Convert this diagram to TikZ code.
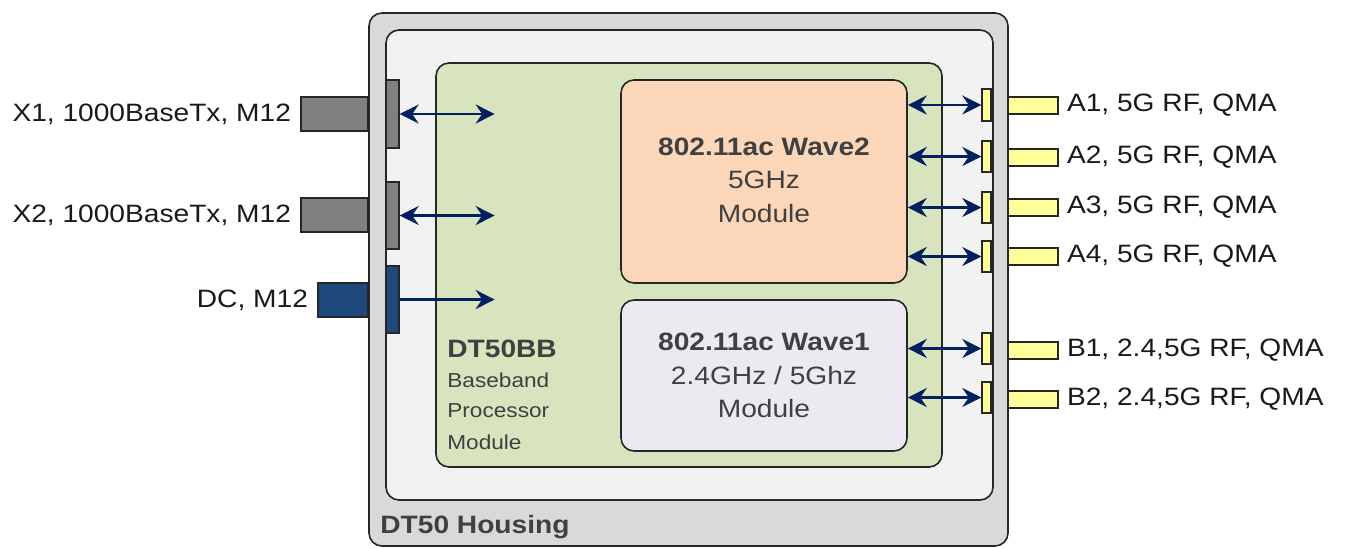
\documentclass[tikz,border=0pt]{standalone}
\usepackage{fontspec}
\setmainfont{Liberation Sans}[FakeStretch=1.12]
\usetikzlibrary{arrows.meta, positioning, fit}
\definecolor{housing}{HTML}{D9D9D9}
\definecolor{bayfill}{HTML}{F2F2F2}
\definecolor{bbgreen}{HTML}{D7E4BD}
\definecolor{peach}{HTML}{FBD6B9}
\definecolor{lilac}{HTML}{ECE9F1}
\definecolor{portgray}{HTML}{808080}
\definecolor{dcblue}{HTML}{1F497D}
\definecolor{rfyellow}{HTML}{FFFF99}
\definecolor{navy}{HTML}{002060}
\definecolor{txt}{HTML}{404040}
\tikzset{
	x=0.02cm, y=-0.02cm,
	bigtip/.tip={Stealth[length=3.8mm, width=3.8mm, inset=1.3mm]},
	box/.style={draw=black!85, line width=0.9pt, rounded corners=0.26cm, inner sep=0pt},
	port/.style={draw=black!85, line width=0.8pt, inner sep=0pt},
	link/.style={bigtip-bigtip, navy, line width=1.3pt},
	feed/.style={-bigtip, navy, line width=1.3pt},
	big/.style={font=\fontsize{14.3}{19}\selectfont, text=txt, align=center},
	lbl/.style={font=\fontsize{14.3}{17}\selectfont, text=black!90, inner sep=0pt}}

\begin{document}
\begin{tikzpicture}
	\useasboundingbox (0,0) rectangle (1349,548);

	\node[box, fill=housing, fit={(369,13) (1008,546)}] (housing) {};
	\node[box, fill=bayfill, fit={(386,30) (993,500)}] (bay) {};
	\node[anchor=base west, font=\bfseries\fontsize{14.3}{17}\selectfont, text=txt, inner sep=0pt] (housinglbl) at (380,533) {DT50 Housing};

	% left side
	\node[port, fill=portgray, fit={(386,80) (399,148)}] (x1in) {};
	\node[port, fill=portgray, fit={(301,97) (368,131)}] (x1out) {};
	\node[lbl, left=0.18cm of x1out] (x1lbl) {X1, 1000BaseTx, M12};
	\node[port, fill=portgray, fit={(386,182) (399,249)}] (x2in) {};
	\node[port, fill=portgray, fit={(301,198) (368,232)}] (x2out) {};
	\node[lbl, left=0.18cm of x2out] (x2lbl) {X2, 1000BaseTx, M12};
	\node[port, fill=dcblue, fit={(386,266) (399,333)}] (dcin) {};
	\node[port, fill=dcblue, fit={(318,283) (368,317)}] (dcout) {};
	\node[lbl, left=0.18cm of dcout] (dclbl) {DC, M12};

	% right side
	\node[port, fill=rfyellow, fit={(982,89) (991,121)}] (a1in) {};
	\node[port, fill=rfyellow, fit={(1008,97) (1058,114)}] (a1out) {};
	\node[lbl, right=0.16cm of a1out] (a1lbl) {A1, 5G RF, QMA};
	\node[port, fill=rfyellow, fit={(982,141) (991,172)}] (a2in) {};
	\node[port, fill=rfyellow, fit={(1008,149) (1058,166)}] (a2out) {};
	\node[lbl, right=0.16cm of a2out] (a2lbl) {A2, 5G RF, QMA};
	\node[port, fill=rfyellow, fit={(982,192) (991,223)}] (a3in) {};
	\node[port, fill=rfyellow, fit={(1008,199) (1058,216)}] (a3out) {};
	\node[lbl, right=0.16cm of a3out] (a3lbl) {A3, 5G RF, QMA};
	\node[port, fill=rfyellow, fit={(982,241) (991,272)}] (a4in) {};
	\node[port, fill=rfyellow, fit={(1008,248) (1058,265)}] (a4out) {};
	\node[lbl, right=0.16cm of a4out] (a4lbl) {A4, 5G RF, QMA};
	\node[port, fill=rfyellow, fit={(982,333) (991,364)}] (b1in) {};
	\node[port, fill=rfyellow, fit={(1008,342) (1058,359)}] (b1out) {};
	\node[lbl, right=0.16cm of b1out] (b1lbl) {B1, 2.4,5G RF, QMA};
	\node[port, fill=rfyellow, fit={(982,382) (991,413)}] (b2in) {};
	\node[port, fill=rfyellow, fit={(1008,391) (1058,408)}] (b2out) {};
	\node[lbl, right=0.16cm of b2out] (b2lbl) {B2, 2.4,5G RF, QMA};

	% modules
	\node[box, fill=bbgreen, fit={(436,63) (942,467)}] (dt50bb) {};
	\node[anchor=north west, align=left, inner sep=0pt, text=txt, font=\fontsize{11.5}{17}\selectfont] (bblbl) at (447,340)
		{{\bfseries\fontsize{14.3}{17}\selectfont DT50BB}\\Baseband\\Processor\\[1pt]Module};
	\node[box, fill=peach, fit={(621,80) (907,283)}] (wave2) {};
	\node[big] (wave2txt) at ([yshift=0.03cm]wave2.center) {\textbf{802.11ac Wave2}\\5GHz\\Module};
	\node[box, fill=lilac, fit={(621,300) (907,451)}] (wave1) {};
	\node[big] (wave1txt) at (wave1.center) {\textbf{802.11ac Wave1}\\2.4GHz / 5Ghz\\Module};

	\coordinate[right=1.9cm of x1in.east] (x1end);
	\coordinate[right=1.9cm of x2in.east] (x2end);
	\coordinate[right=1.9cm of dcin.east] (dcend);

	\draw[link] (x1in.east) -- (x1end);
	\draw[link] (x2in.east) -- (x2end);
	\draw[feed] (dcin.east) -- (dcend);
	\draw[link] (wave2.east |- a1in) -- (a1in.west);
	\draw[link] (wave2.east |- a2in) -- (a2in.west);
	\draw[link] (wave2.east |- a3in) -- (a3in.west);
	\draw[link] (wave2.east |- a4in) -- (a4in.west);
	\draw[link] (wave1.east |- b1in) -- (b1in.west);
	\draw[link] (wave1.east |- b2in) -- (b2in.west);

\end{tikzpicture}
\end{document}
